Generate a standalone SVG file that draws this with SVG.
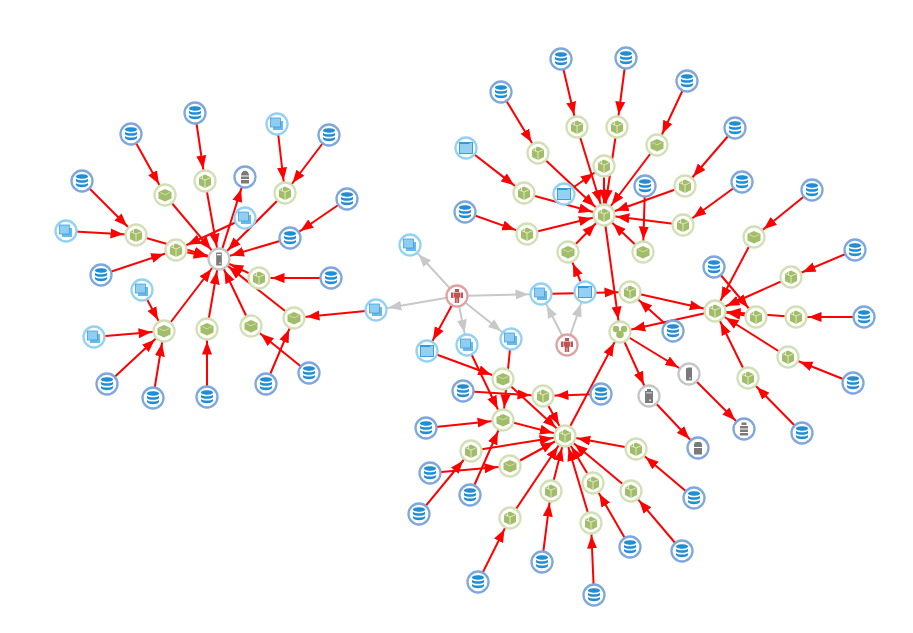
<svg xmlns="http://www.w3.org/2000/svg" width="913" height="633" viewBox="0 0 913 633">
<style>
.r{stroke:#f00;stroke-width:2;fill:none;marker-end:url(#ar)}
.g{stroke:#c8c8c8;stroke-width:2;fill:none;marker-end:url(#ag)}
.ring{fill:#fff;stroke-width:2.3}
.db{stroke:#7ea7e0}.cu{stroke:#d2e0b6}.ap{stroke:#92d2f4}.pe{stroke:#dea2a1}.sv{stroke:#c6c6c6}
.dbi{fill:#1f8ed4}.cui{fill:#a2bd67}.gy{fill:#7a7a7a}.pi{fill:#bb5654}
</style>
<defs>
<marker id="ar" markerUnits="userSpaceOnUse" markerWidth="26" markerHeight="11" viewBox="0 0 26 11" refX="25.5" refY="5.5" orient="auto"><path d="M0,0.5L13,5.5L0,10.5z" fill="#f00"/></marker>
<marker id="ag" markerUnits="userSpaceOnUse" markerWidth="26" markerHeight="11" viewBox="0 0 26 11" refX="25.5" refY="5.5" orient="auto"><path d="M0,0.5L13,5.5L0,10.5z" fill="#c8c8c8"/></marker>
<g id="db"><circle class="ring db" r="10.5"/><path class="dbi" d="M-6,-4.5C-6,-7.5 6,-7.5 6,-4.5C6,-1.5 -6,-1.5 -6,-4.5zM-6,-2.2C-4,-.2 4,-.2 6,-2.2V.2C4,2.2 -4,2.2 -6,.2zM-6,2C-4,4 4,4 6,2V4C4,7 -4,7 -6,4z"/></g>
<g id="ca"><circle class="ring cu" r="10.5"/><path class="cui" d="M0,-6.5L6,-3.5V4L0,7L-6,4V-3.5z"/><path d="M0,-1V7M-6,-3.5L0,-1L6,-3.5M-2.5,-5.2V-2" stroke="#eef3df" stroke-width=".8" fill="none"/></g>
<g id="cb"><circle class="ring cu" r="10.5"/><path class="cui" d="M0,-6L6.5,-3V3.5L0,6.5L-6.5,3.5V-3z"/><path d="M-5,-2.5L0,-.2L5,-2.5" stroke="#dfe9c6" stroke-width=".7" fill="none"/></g>
<g id="cc"><circle class="ring cu" r="10.5"/><g class="cui"><circle cx="-4" cy="-3" r="3.2"/><circle cx="4" cy="-3" r="3.2"/><circle cy="2.5" r="3.8"/></g></g>
<g id="st"><circle class="ring ap" r="10.5"/><rect x="-4" y="-3" width="10" height="9" fill="#66bbec"/><rect x="-6.5" y="-6" width="10" height="9" fill="#8fcef2" stroke="#2f98dc" stroke-width=".7"/></g>
<g id="wi"><circle class="ring ap" r="10.5"/><rect x="-6.5" y="-5.5" width="13" height="11" fill="#93d0f3" stroke="#2f98dc" stroke-width=".9"/><rect x="-6.5" y="-5.5" width="10" height="1.5" fill="#2f98dc"/></g>
<g id="pe"><circle class="ring pe" r="10.5"/><path class="pi" d="M-2,-7H2V-4H-2zM-6,-3.5H-3.5V2H-6zM3.5,-3.5H6V2H3.5zM-3,-3.5H3V1.5H2.2V7H.3V2.5H-.3V7H-2.2V1.5H-3z"/></g>
<g id="s1"><circle class="ring sv" r="10.5"/><path class="gy" d="M-2.8,-6.5H2.8V6.5H-2.8z"/><rect x="-2" y="-5" width="4" height="1.3" fill="#fff"/><rect x=".3" y="3.5" width="1.3" height="1.3" fill="#fff"/></g>
<g id="s2"><circle class="ring sv" r="10.5"/><path class="gy" d="M-1,-6.5L3,-6.5V6.5H-3V-5.5z"/><rect x=".3" y="3.5" width="1.3" height="1.3" fill="#fff"/></g>
<g id="s3"><circle class="ring sv" r="10.5"/><path class="gy" d="M-2,-7H2V-5H4V7H-4V-5H-2z"/><rect x="-3" y="-3.5" width="6" height=".8" fill="#fff"/><rect x=".3" y="3.5" width="1.5" height="1.5" fill="#fff"/></g>
<g id="g1"><circle class="ring db" r="10.5"/><path class="gy" d="M-4,-1.5C-4,-8 4,-8 4,-1.5zM-4,-.5H4V2H-4zM-4,3H4V6.5H-4z"/></g>
<g id="g2"><circle class="ring db" r="10.5"/><path class="gy" d="M-2.5,-6H2.5L4,-4V-1H-4V-4zM-4,0H4V6.5H-4z"/></g>
<g id="g3"><circle class="ring db" r="10.5"/><path class="gy" d="M-2.5,-6.5H2.5V-4H-2.5zM-4,-3H4V-.5H-4zM-4,.5H4V3H-4zM-4,4H4V6.5H-4z"/></g>
</defs>
<g id="connectors">
<path class="g" d="M457,296L410,245"/><path class="g" d="M457,296L376,310"/><path class="g" d="M457,296L541,294"/><path class="g" d="M457,296L467,345"/><path class="g" d="M457,296L511,339"/><path class="g" d="M567,345L541,294"/><path class="g" d="M567,345L585,292"/>
<path class="r" d="M195,113L205,181"/><path class="r" d="M131,134L165,195"/><path class="r" d="M82,181L136,235"/><path class="r" d="M66,231L136,235"/><path class="r" d="M101,275L176,250"/><path class="r" d="M277,124L285,193"/><path class="r" d="M329,135L285,193"/><path class="r" d="M347,199L290,238"/><path class="r" d="M331,278L259,278"/><path class="r" d="M245,218L176,250"/><path class="r" d="M142,290L164,331"/><path class="r" d="M94,337L164,331"/><path class="r" d="M107,384L164,331"/><path class="r" d="M153,398L164,331"/><path class="r" d="M207,397L207,329"/><path class="r" d="M266,384L294,318"/><path class="r" d="M309,373L251,326"/><path class="r" d="M376,310L294,318"/>
<path class="r" d="M205,181L219,259"/><path class="r" d="M165,195L219,259"/><path class="r" d="M285,193L219,259"/><path class="r" d="M136,235L219,259"/><path class="r" d="M176,250L219,259"/><path class="r" d="M290,238L219,259"/><path class="r" d="M259,278L219,259"/><path class="r" d="M294,318L219,259"/><path class="r" d="M251,326L219,259"/><path class="r" d="M207,329L219,259"/><path class="r" d="M164,331L219,259"/><path class="r" d="M219,259L245,177"/>
<path class="r" d="M457,296L427,351"/><path class="r" d="M541,294L630,292"/><path class="r" d="M585,292L568,252"/><path class="r" d="M568,252L604,215"/><path class="r" d="M630,292L715,311"/><path class="r" d="M673,331L630,292"/><path class="r" d="M715,311L620,332"/><path class="r" d="M604,215L620,332"/><path class="r" d="M620,332L689,374"/><path class="r" d="M620,332L649,396"/><path class="r" d="M689,374L744,429"/><path class="r" d="M649,396L698,448"/><path class="r" d="M565,436L620,332"/>
<path class="r" d="M561,59L577,127"/><path class="r" d="M626,58L617,127"/><path class="r" d="M687,81L657,145"/><path class="r" d="M501,92L538,153"/><path class="r" d="M735,128L685,186"/><path class="r" d="M742,182L683,225"/><path class="r" d="M466,148L524,193"/><path class="r" d="M465,212L527,234"/><path class="r" d="M645,186L643,252"/><path class="r" d="M564,194L604,166"/>
<path class="r" d="M577,127L604,215"/><path class="r" d="M617,127L604,215"/><path class="r" d="M657,145L604,215"/><path class="r" d="M538,153L604,215"/><path class="r" d="M604,166L604,215"/><path class="r" d="M685,186L604,215"/><path class="r" d="M683,225L604,215"/><path class="r" d="M524,193L604,215"/><path class="r" d="M527,234L604,215"/><path class="r" d="M643,252L604,215"/>
<path class="r" d="M812,190L754,237"/><path class="r" d="M754,237L715,311"/><path class="r" d="M855,250L791,277"/><path class="r" d="M791,277L715,311"/><path class="r" d="M864,317L796,317"/><path class="r" d="M796,317L715,311"/><path class="r" d="M853,383L788,357"/><path class="r" d="M788,357L715,311"/><path class="r" d="M802,433L748,378"/><path class="r" d="M748,378L715,311"/><path class="r" d="M714,267L756,317"/><path class="r" d="M756,317L715,311"/>
<path class="r" d="M427,351L503,379"/><path class="r" d="M467,345L503,420"/><path class="r" d="M511,339L503,420"/><path class="r" d="M463,391L543,396"/><path class="r" d="M601,394L543,396"/><path class="r" d="M426,428L503,420"/><path class="r" d="M430,473L510,466"/><path class="r" d="M470,495L503,420"/><path class="r" d="M419,514L471,451"/><path class="r" d="M694,498L636,449"/><path class="r" d="M682,551L631,491"/><path class="r" d="M630,547L593,483"/><path class="r" d="M542,562L551,491"/><path class="r" d="M478,582L510,518"/><path class="r" d="M594,595L591,523"/>
<path class="r" d="M503,379L565,436"/><path class="r" d="M543,396L565,436"/><path class="r" d="M503,420L565,436"/><path class="r" d="M471,451L565,436"/><path class="r" d="M510,466L565,436"/><path class="r" d="M510,518L565,436"/><path class="r" d="M551,491L565,436"/><path class="r" d="M593,483L565,436"/><path class="r" d="M591,523L565,436"/><path class="r" d="M631,491L565,436"/><path class="r" d="M636,449L565,436"/>
</g>
<g id="nodes">
<g id="a1" transform="translate(219,259)"><use href="#s1"/></g>
<g id="a2" transform="translate(245,177)"><use href="#g1"/></g>
<g id="a3" transform="translate(195,113)"><use href="#db"/></g><g id="a4" transform="translate(131,134)"><use href="#db"/></g><g id="a5" transform="translate(82,181)"><use href="#db"/></g><g id="a6" transform="translate(101,275)"><use href="#db"/></g><g id="a7" transform="translate(329,135)"><use href="#db"/></g><g id="a8" transform="translate(347,199)"><use href="#db"/></g><g id="a9" transform="translate(290,238)"><use href="#db"/></g><g id="a10" transform="translate(331,278)"><use href="#db"/></g><g id="a11" transform="translate(107,384)"><use href="#db"/></g><g id="a12" transform="translate(153,398)"><use href="#db"/></g><g id="a13" transform="translate(207,397)"><use href="#db"/></g><g id="a14" transform="translate(266,384)"><use href="#db"/></g><g id="a15" transform="translate(309,373)"><use href="#db"/></g>
<g id="a16" transform="translate(277,124)"><use href="#st"/></g><g id="a17" transform="translate(245,218)"><use href="#st"/></g><g id="a18" transform="translate(66,231)"><use href="#st"/></g><g id="a19" transform="translate(142,290)"><use href="#st"/></g><g id="a20" transform="translate(94,337)"><use href="#st"/></g><g id="a21" transform="translate(376,310)"><use href="#st"/></g>
<g id="a22" transform="translate(205,181)"><use href="#ca"/></g><g id="a23" transform="translate(165,195)"><use href="#cb"/></g><g id="a24" transform="translate(285,193)"><use href="#ca"/></g><g id="a25" transform="translate(136,235)"><use href="#ca"/></g><g id="a26" transform="translate(176,250)"><use href="#ca"/></g><g id="a27" transform="translate(259,278)"><use href="#ca"/></g><g id="a28" transform="translate(294,318)"><use href="#cb"/></g><g id="a29" transform="translate(251,326)"><use href="#cb"/></g><g id="a30" transform="translate(207,329)"><use href="#cb"/></g><g id="a31" transform="translate(164,331)"><use href="#cb"/></g>
<g id="b1" transform="translate(457,296)"><use href="#pe"/></g><g id="b2" transform="translate(567,345)"><use href="#pe"/></g>
<g id="b3" transform="translate(410,245)"><use href="#st"/></g><g id="b4" transform="translate(541,294)"><use href="#st"/></g><g id="b5" transform="translate(467,345)"><use href="#st"/></g><g id="b6" transform="translate(511,339)"><use href="#st"/></g>
<g id="b7" transform="translate(585,292)"><use href="#wi"/></g><g id="b8" transform="translate(427,351)"><use href="#wi"/></g><g id="b9" transform="translate(466,148)"><use href="#wi"/></g><g id="b10" transform="translate(564,194)"><use href="#wi"/></g>
<g id="c1" transform="translate(604,215)"><use href="#ca"/></g><g id="c2" transform="translate(577,127)"><use href="#ca"/></g><g id="c3" transform="translate(617,127)"><use href="#ca"/></g><g id="c4" transform="translate(657,145)"><use href="#cb"/></g><g id="c5" transform="translate(538,153)"><use href="#ca"/></g><g id="c6" transform="translate(604,166)"><use href="#ca"/></g><g id="c7" transform="translate(685,186)"><use href="#ca"/></g><g id="c8" transform="translate(683,225)"><use href="#ca"/></g><g id="c9" transform="translate(524,193)"><use href="#ca"/></g><g id="c10" transform="translate(527,234)"><use href="#ca"/></g><g id="c11" transform="translate(643,252)"><use href="#cb"/></g><g id="c12" transform="translate(568,252)"><use href="#cb"/></g>
<g id="c13" transform="translate(561,59)"><use href="#db"/></g><g id="c14" transform="translate(626,58)"><use href="#db"/></g><g id="c15" transform="translate(687,81)"><use href="#db"/></g><g id="c16" transform="translate(501,92)"><use href="#db"/></g><g id="c17" transform="translate(735,128)"><use href="#db"/></g><g id="c18" transform="translate(742,182)"><use href="#db"/></g><g id="c19" transform="translate(465,212)"><use href="#db"/></g><g id="c20" transform="translate(645,186)"><use href="#db"/></g>
<g id="d1" transform="translate(630,292)"><use href="#ca"/></g><g id="d2" transform="translate(620,332)"><use href="#cc"/></g><g id="d3" transform="translate(715,311)"><use href="#ca"/></g><g id="d4" transform="translate(673,331)"><use href="#db"/></g><g id="d5" transform="translate(689,374)"><use href="#s2"/></g><g id="d6" transform="translate(649,396)"><use href="#s3"/></g><g id="d7" transform="translate(744,429)"><use href="#g3"/></g><g id="d8" transform="translate(698,448)"><use href="#g2"/></g>
<g id="e1" transform="translate(754,237)"><use href="#cb"/></g><g id="e2" transform="translate(791,277)"><use href="#ca"/></g><g id="e3" transform="translate(796,317)"><use href="#ca"/></g><g id="e4" transform="translate(756,317)"><use href="#ca"/></g><g id="e5" transform="translate(788,357)"><use href="#ca"/></g><g id="e6" transform="translate(748,378)"><use href="#ca"/></g>
<g id="e7" transform="translate(812,190)"><use href="#db"/></g><g id="e8" transform="translate(855,250)"><use href="#db"/></g><g id="e9" transform="translate(864,317)"><use href="#db"/></g><g id="e10" transform="translate(853,383)"><use href="#db"/></g><g id="e11" transform="translate(802,433)"><use href="#db"/></g><g id="e12" transform="translate(714,267)"><use href="#db"/></g>
<g id="f1" transform="translate(565,436)"><use href="#ca"/></g><g id="f2" transform="translate(503,379)"><use href="#cb"/></g><g id="f3" transform="translate(543,396)"><use href="#ca"/></g><g id="f4" transform="translate(503,420)"><use href="#cb"/></g><g id="f5" transform="translate(471,451)"><use href="#ca"/></g><g id="f6" transform="translate(510,466)"><use href="#cb"/></g><g id="f7" transform="translate(636,449)"><use href="#ca"/></g><g id="f8" transform="translate(631,491)"><use href="#ca"/></g><g id="f9" transform="translate(593,483)"><use href="#ca"/></g><g id="f10" transform="translate(551,491)"><use href="#ca"/></g><g id="f11" transform="translate(591,523)"><use href="#ca"/></g><g id="f12" transform="translate(510,518)"><use href="#ca"/></g>
<g id="f13" transform="translate(463,391)"><use href="#db"/></g><g id="f14" transform="translate(601,394)"><use href="#db"/></g><g id="f15" transform="translate(426,428)"><use href="#db"/></g><g id="f16" transform="translate(430,473)"><use href="#db"/></g><g id="f17" transform="translate(470,495)"><use href="#db"/></g><g id="f18" transform="translate(419,514)"><use href="#db"/></g><g id="f19" transform="translate(694,498)"><use href="#db"/></g><g id="f20" transform="translate(682,551)"><use href="#db"/></g><g id="f21" transform="translate(630,547)"><use href="#db"/></g><g id="f22" transform="translate(542,562)"><use href="#db"/></g><g id="f23" transform="translate(478,582)"><use href="#db"/></g><g id="f24" transform="translate(594,595)"><use href="#db"/></g>
</g>
</svg>
